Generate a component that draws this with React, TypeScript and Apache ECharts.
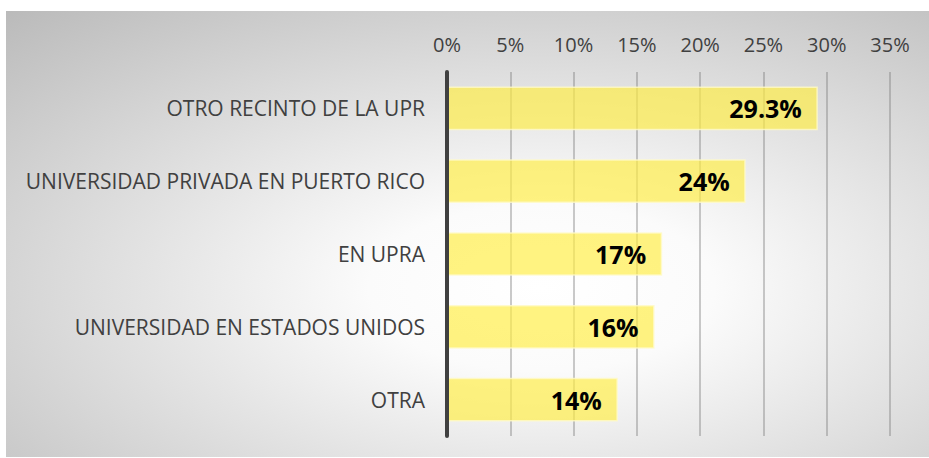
import React, { useEffect, useRef } from "react";
import * as echarts from "echarts";

const categories = [
  "OTRO RECINTO DE LA UPR",
  "UNIVERSIDAD PRIVADA EN PUERTO RICO",
  "EN UPRA",
  "UNIVERSIDAD EN ESTADOS UNIDOS",
  "OTRA",
];
const values = [29.3, 23.6, 17.0, 16.4, 13.5];
const valueLabels = ["29.3%", "24%", "17%", "16%", "14%"];
const axisMin = 0;
const axisMax = 35;
const axisInterval = 5;

const W = 929;
const H = 458;
const BOX_X = 6;
const BOX_Y = 11;
const BOX_W = W - BOX_X;
const BOX_H = H - BOX_Y - 1;

export default function App() {
  const ref = useRef<HTMLDivElement>(null);
  useEffect(() => {
    if (!ref.current) return;
    const chart = echarts.init(ref.current, undefined, { renderer: "svg" });
    const font = "'Open Sans', sans-serif";
    chart.setOption({
      animation: false,
      backgroundColor: "#ffffff",
      graphic: [
        {
          type: "group",
          x: BOX_X,
          y: BOX_Y,
          scaleX: BOX_W / BOX_H,
          z: -10,
          silent: true,
          children: [
            {
              type: "rect",
              shape: { x: 0, y: 0, width: BOX_H, height: BOX_H },
              style: {
                fill: new echarts.graphic.RadialGradient(0.58, 0.62, 0.85, [
                  { offset: 0, color: "#ffffff" },
                  { offset: 0.22, color: "#fbfbfb" },
                  { offset: 1, color: "#bababa" },
                ]),
              },
            },
          ],
        },
        {
          type: "line",
          z: -9,
          silent: true,
          shape: { x1: BOX_X, y1: BOX_Y + 0.5, x2: W, y2: BOX_Y + 0.5 },
          style: { stroke: "#c8c8c8", lineWidth: 1 },
        },
      ],
      grid: { left: 447, right: 39, top: 72, bottom: 22, containLabel: false },
      xAxis: {
        type: "value",
        position: "top",
        min: axisMin,
        max: axisMax,
        interval: axisInterval,
        axisLine: { show: false },
        axisTick: { show: false },
        axisLabel: {
          formatter: "{value}%",
          color: "#404040",
          fontFamily: font,
          fontSize: 20,
          margin: 18,
        },
        splitLine: {
          show: true,
          lineStyle: { color: "rgba(128,128,128,0.55)", width: 1.5 },
        },
      },
      yAxis: {
        type: "category",
        inverse: true,
        data: categories,
        z: 5,
        axisLine: { show: true, lineStyle: { color: "#404040", width: 4 } },
        axisTick: { show: false },
        axisLabel: {
          color: "#404040",
          fontFamily: font,
          fontSize: 21,
          margin: 22,
        },
        splitLine: { show: false },
      },
      series: [
        {
          type: "bar",
          data: values,
          barWidth: "60%",
          itemStyle: {
            color: "rgba(255,237,70,0.68)",
            borderColor: "rgba(255,250,200,0.8)",
            borderWidth: 1.5,
          },
          label: {
            show: true,
            position: "insideRight",
            distance: 16,
            formatter: (p: any) => valueLabels[p.dataIndex],
            color: "#000000",
            fontFamily: font,
            fontWeight: "bold",
            fontSize: 25,
          },
        },
      ],
    });
    return () => chart.dispose();
  }, []);
  return (
    <div
      ref={ref}
      style={{ position: "fixed", left: 0, top: 0, width: W, height: H }}
    />
  );
}
